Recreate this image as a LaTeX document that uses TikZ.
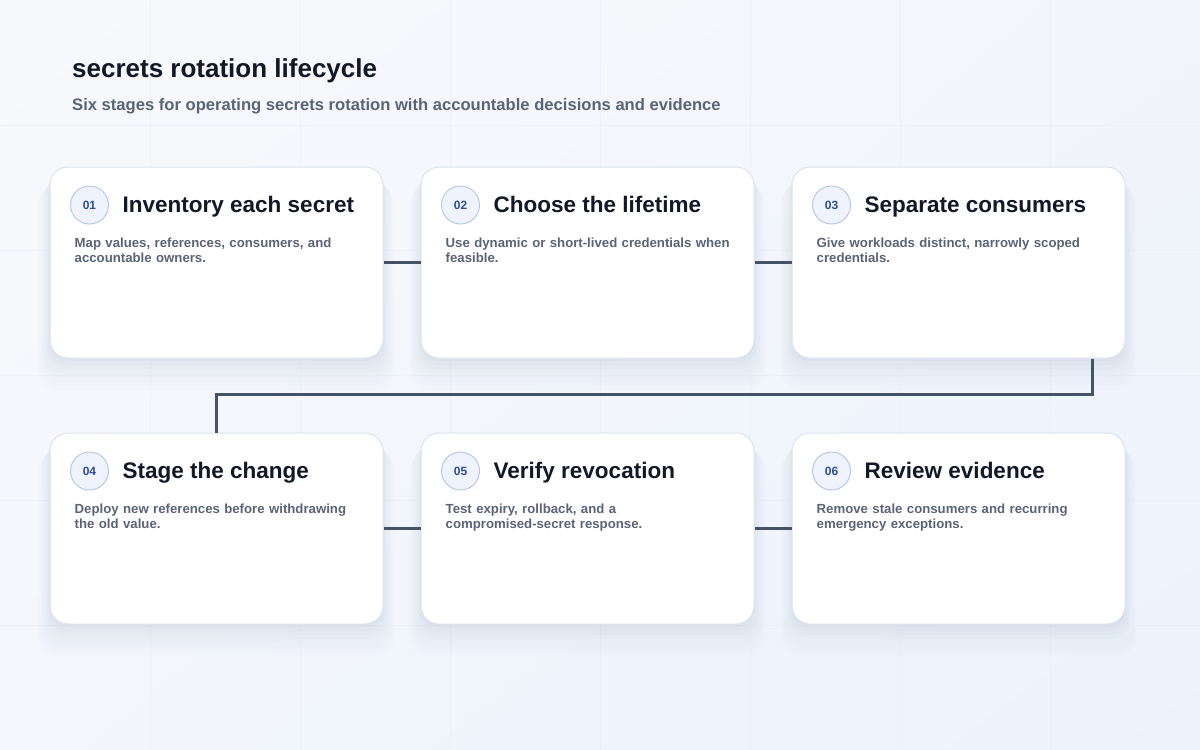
\documentclass[tikz,border=0pt]{standalone}
\usepackage{fontspec}
\setmainfont{Liberation Sans}
\usetikzlibrary{calc,shadows,shadings}
\definecolor{hglo}{HTML}{F8F9FC}
\definecolor{hgro}{HTML}{F2F5FB}
\definecolor{hglu}{HTML}{F3F6FC}
\definecolor{hgru}{HTML}{ECF2FC}
\definecolor{gitterfarbe}{HTML}{E4E9F1}
\definecolor{kartenrand}{HTML}{DCE3EE}
\definecolor{schatten}{HTML}{8A9AB8}
\definecolor{kreisfuell}{HTML}{EEF3FD}
\definecolor{kreisrand}{HTML}{B7C9EA}
\definecolor{nummerfarbe}{HTML}{2C4D9C}
\definecolor{titelfarbe}{HTML}{111827}
\definecolor{beschrfarbe}{HTML}{5A6477}
\definecolor{linienfarbe}{HTML}{465366}

\begin{document}
\begin{tikzpicture}[x=1pt,y=-1pt,
  gitter/.style={draw=gitterfarbe, line width=0.8pt, opacity=0.35},
  karte/.style={draw=kartenrand, line width=1pt, fill=white, rounded corners=18pt,
    minimum width=333pt, minimum height=191pt, inner sep=0pt,
    drop shadow={shadow xshift=0pt, shadow yshift=-3pt, opacity=.04, fill=schatten},
    drop shadow={shadow xshift=0pt, shadow yshift=-6pt, shadow scale=1.01, opacity=.035, fill=schatten},
    drop shadow={shadow xshift=0pt, shadow yshift=-9pt, shadow scale=1.02, opacity=.03, fill=schatten},
    drop shadow={shadow xshift=0pt, shadow yshift=-12pt, shadow scale=1.03, opacity=.025, fill=schatten},
    drop shadow={shadow xshift=0pt, shadow yshift=-15pt, shadow scale=1.04, opacity=.02, fill=schatten},
    drop shadow={shadow xshift=0pt, shadow yshift=-18pt, shadow scale=1.05, opacity=.015, fill=schatten},
    drop shadow={shadow xshift=0pt, shadow yshift=-21pt, shadow scale=1.06, opacity=.012, fill=schatten},
    drop shadow={shadow xshift=0pt, shadow yshift=-24pt, shadow scale=1.07, opacity=.01, fill=schatten}},
  nummer/.style={circle, draw=kreisrand, line width=1pt, fill=kreisfuell, minimum size=38pt,
    inner sep=0pt, font=\fontsize{12}{12}\selectfont\bfseries, text=nummerfarbe},
  titel/.style={anchor=base west, inner sep=0pt, font=\fontsize{22.5}{26}\selectfont\bfseries, text=titelfarbe},
  beschr/.style={anchor=base west, inner sep=0pt, text width=300pt, align=left,
    font=\fontsize{13.2}{15}\selectfont\bfseries, text=beschrfarbe},
  verbindung/.style={draw=linienfarbe, line width=3pt}]
% Hintergrund:
\useasboundingbox (0,0) rectangle (1200,750);
\shade[upper left=hglo, upper right=hgro, lower left=hglu, lower right=hgru] (0,0) rectangle (1200,750);
\foreach \gx in {150,300,...,1050} \draw[gitter] (\gx,0) -- (\gx,750);
\foreach \gy in {125,250,...,625} \draw[gitter] (0,\gy) -- (1200,\gy);
% Ueberschrift:
\node[anchor=base west, inner sep=0pt, font=\fontsize{26}{30}\selectfont\bfseries, text=titelfarbe] (ueberschrift) at (72,77) {secrets rotation lifecycle};
\node[anchor=base west, inner sep=0pt, font=\fontsize{16.6}{20}\selectfont\bfseries, text=beschrfarbe] (unterzeile) at (72,110) {Six stages for operating secrets rotation with accountable decisions and evidence};
% Karten oben:
\node[karte] (karte1) at (216.5,262.5) {};
\node[karte] (karte2) at (587.5,262.5) {};
\node[karte] (karte3) at (958.5,262.5) {};
% Karten unten:
\node[karte] (karte4) at (216.5,528.5) {};
\node[karte] (karte5) at (587.5,528.5) {};
\node[karte] (karte6) at (958.5,528.5) {};
% Verbindungen:
\draw[verbindung] (karte1.east) -- (karte2.west);
\draw[verbindung] (karte2.east) -- (karte3.west);
\draw[verbindung] ($(karte3.south east)+(-33,0)$) |- ($(karte4.north)+(0,-38)$) -- (karte4.north);
\draw[verbindung] (karte4.east) -- (karte5.west);
\draw[verbindung] (karte5.east) -- (karte6.west);
% Inhalte:
\node[nummer] (nr1) at ($(karte1.north west)+(40,38.5)$) {01};
\node[titel] (titel1) at ($(karte1.north west)+(73,46)$) {Inventory each secret};
\node[beschr] (beschr1) at ($(karte1.north west)+(25,81)$) {Map values, references, consumers, and\\accountable owners.};
\node[nummer] (nr2) at ($(karte2.north west)+(40,38.5)$) {02};
\node[titel] (titel2) at ($(karte2.north west)+(73,46)$) {Choose the lifetime};
\node[beschr] (beschr2) at ($(karte2.north west)+(25,81)$) {Use dynamic or short-lived credentials when\\feasible.};
\node[nummer] (nr3) at ($(karte3.north west)+(40,38.5)$) {03};
\node[titel] (titel3) at ($(karte3.north west)+(73,46)$) {Separate consumers};
\node[beschr] (beschr3) at ($(karte3.north west)+(25,81)$) {Give workloads distinct, narrowly scoped\\credentials.};
\node[nummer] (nr4) at ($(karte4.north west)+(40,38.5)$) {04};
\node[titel] (titel4) at ($(karte4.north west)+(73,46)$) {Stage the change};
\node[beschr] (beschr4) at ($(karte4.north west)+(25,81)$) {Deploy new references before withdrawing\\the old value.};
\node[nummer] (nr5) at ($(karte5.north west)+(40,38.5)$) {05};
\node[titel] (titel5) at ($(karte5.north west)+(73,46)$) {Verify revocation};
\node[beschr] (beschr5) at ($(karte5.north west)+(25,81)$) {Test expiry, rollback, and a\\compromised-secret response.};
\node[nummer] (nr6) at ($(karte6.north west)+(40,38.5)$) {06};
\node[titel] (titel6) at ($(karte6.north west)+(73,46)$) {Review evidence};
\node[beschr] (beschr6) at ($(karte6.north west)+(25,81)$) {Remove stale consumers and recurring\\emergency exceptions.};
\end{tikzpicture}
\end{document}
